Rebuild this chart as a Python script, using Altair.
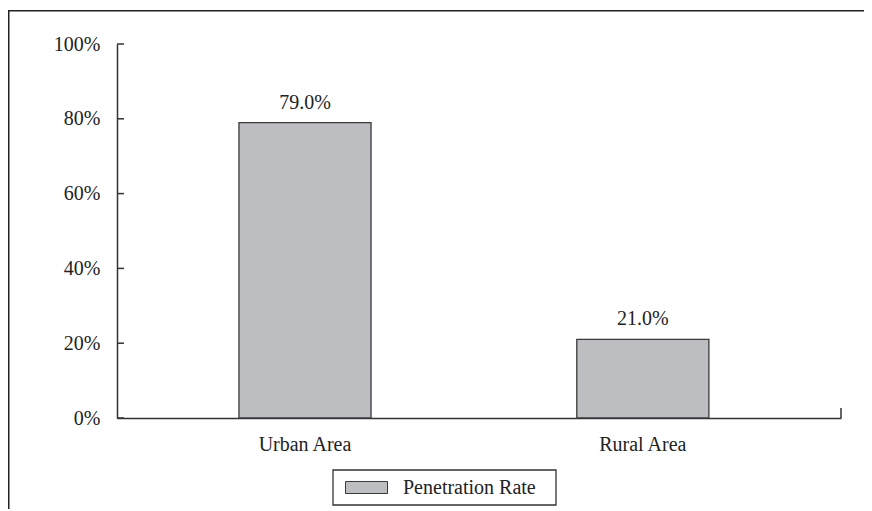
import altair as alt
import pandas as pd

# ---- data ----
categories = ["Urban Area", "Rural Area"]
rates = [0.79, 0.21]
series_name = "Penetration Rate"
y_ticks = [0.0, 0.2, 0.4, 0.6, 0.8, 1.0]

df = pd.DataFrame({"area": categories, "rate": rates, "series": [series_name] * len(categories)})
ticks_df = pd.DataFrame({"rate": y_ticks})
one = pd.DataFrame({"a": [0]})

W, H = 724, 374
PAD_L, PAD_T, PAD_R, PAD_B = 109, 36, 23, 91
FONT = "Liberation Serif"
FS = 20
TXT = "#222222"
LINE = "#333333"
FILL = "#bdbec2"

x_scale = alt.Scale(domain=categories, paddingInner=0.609, paddingOuter=0.376, align=0.48)
y_scale = alt.Scale(domain=[0, 1])
y_axis = alt.Axis(title=None, values=y_ticks, format=".0%", ticks=False, tickSize=0,
                  labelPadding=17, labelFont=FONT, labelFontSize=FS, labelColor=TXT,
                  domainColor=LINE, domainWidth=1.5, grid=False)

legend_box = alt.Chart(one).mark_rect(fill="white", stroke=LINE, strokeWidth=1.3).encode(
    x=alt.value(216), x2=alt.value(439), y=alt.value(426), y2=alt.value(461)
)

bars = alt.Chart(df).mark_bar(stroke="#3a3a3a", strokeWidth=1.3).encode(
    x=alt.X("area:N", scale=x_scale, sort=categories,
            axis=alt.Axis(title=None, labelAngle=0, ticks=False, tickSize=0, labelPadding=16,
                          labelFont=FONT, labelFontSize=FS, labelColor=TXT,
                          domainColor=LINE, domainWidth=1.5, grid=False)),
    y=alt.Y("rate:Q", scale=y_scale, axis=y_axis),
    color=alt.Color("series:N", scale=alt.Scale(range=[FILL]),
                    legend=alt.Legend(title=None, orient="none", legendX=228, legendY=422,
                                      padding=0,
                                      symbolType="M-1,-0.286H1V0.286H-1Z", symbolSize=1764,
                                      symbolStrokeColor="#3a3a3a", symbolStrokeWidth=1,
                                      labelFont=FONT, labelFontSize=FS, labelColor=TXT,
                                      labelOffset=15)),
)

labels = alt.Chart(df).mark_text(baseline="bottom", dy=-10, font=FONT, fontSize=FS, color=TXT).encode(
    x=alt.X("area:N", scale=x_scale, sort=categories),
    y=alt.Y("rate:Q", scale=y_scale),
    text=alt.Text("rate:Q", format=".1%"),
)

yticks = alt.Chart(ticks_df).mark_rule(color=LINE, strokeWidth=1.5).encode(
    y=alt.Y("rate:Q", scale=y_scale, axis=y_axis),
    x=alt.value(0),
    x2=alt.value(7),
)

end_tick = alt.Chart(one).mark_rule(color=LINE, strokeWidth=1.5).encode(
    x=alt.value(W), y=alt.value(H - 10), y2=alt.value(H)
)

frame_left = alt.Chart(one).mark_rule(color="#222", strokeWidth=1.5).encode(
    x=alt.value(-PAD_L + 0.75), y=alt.value(-PAD_T + 2), y2=alt.value(H + PAD_B)
)
frame_top = alt.Chart(one).mark_rule(color="#222", strokeWidth=1.5).encode(
    x=alt.value(-PAD_L), x2=alt.value(W + PAD_R), y=alt.value(-PAD_T + 2.75)
)

chart = alt.layer(frame_left, frame_top, legend_box, bars, labels, yticks, end_tick).properties(
    width=W, height=H,
    autosize=alt.AutoSizeParams(type="none"),
    padding={"left": PAD_L, "top": PAD_T, "right": PAD_R, "bottom": PAD_B},
    background="white",
).configure_view(stroke=None)

chart.save("out.html", embed_options={"renderer": "svg", "actions": False})
